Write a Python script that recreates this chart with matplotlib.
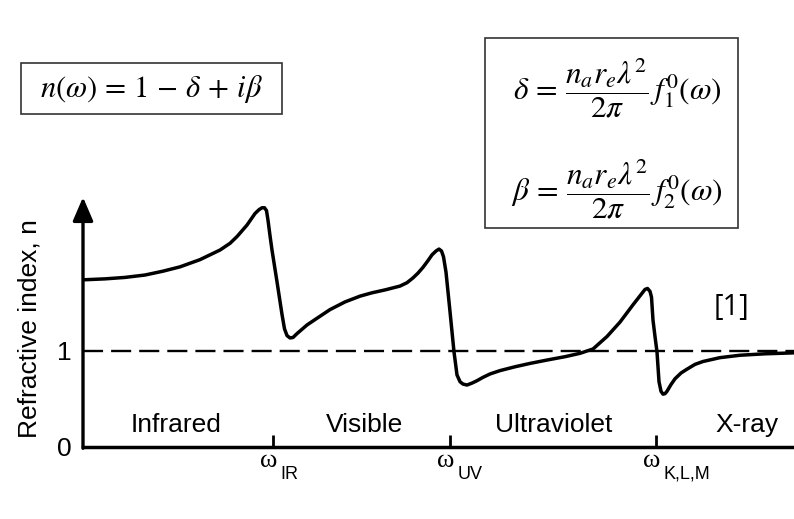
import matplotlib
matplotlib.use('Agg')
import matplotlib.pyplot as plt
from matplotlib.patches import Rectangle

# Schematic refractive index n(omega) across the spectrum
omega = [0.00, 0.22, 0.42, 0.62, 0.80, 0.97, 1.17, 1.37, 1.47, 1.54, 1.64, 1.72,
         1.76, 1.79, 1.815, 1.835, 1.85, 1.87, 1.89, 1.94, 1.99, 2.015, 2.04, 2.07,
         2.10, 2.14, 2.24, 2.34, 2.47, 2.62, 2.77, 2.89, 3.02, 3.17, 3.24, 3.30,
         3.35, 3.40, 3.45, 3.49, 3.53, 3.56, 3.585, 3.605, 3.63, 3.67, 3.71, 3.74,
         3.77, 3.80, 3.84, 3.89, 3.94, 4.00, 4.07, 4.17, 4.32, 4.47, 4.64, 4.82,
         4.97, 5.10, 5.24, 5.37, 5.50, 5.59, 5.62, 5.645, 5.67, 5.685, 5.70, 5.72,
         5.74, 5.76, 5.78, 5.80, 5.82, 5.84, 5.88, 5.92, 5.98, 6.04, 6.12, 6.20,
         6.37, 6.57, 6.82, 7.11]
n_index = [1.74, 1.75, 1.765, 1.79, 1.83, 1.875, 1.95, 2.05, 2.12, 2.19, 2.31, 2.43,
           2.47, 2.49, 2.49, 2.46, 2.36, 2.20, 2.05, 1.72, 1.38, 1.23, 1.16, 1.135,
           1.14, 1.18, 1.27, 1.34, 1.43, 1.51, 1.57, 1.605, 1.635, 1.675, 1.71, 1.76,
           1.81, 1.87, 1.94, 2.00, 2.04, 2.06, 2.04, 1.98, 1.82, 1.41, 0.99, 0.75,
           0.68, 0.655, 0.645, 0.665, 0.69, 0.725, 0.76, 0.795, 0.835, 0.87, 0.905, 0.94,
           0.975, 1.02, 1.15, 1.30, 1.48, 1.60, 1.64, 1.65, 1.62, 1.56, 1.32, 1.15,
           0.99, 0.68, 0.58, 0.55, 0.555, 0.58, 0.65, 0.71, 0.77, 0.81, 0.86, 0.89,
           0.93, 0.955, 0.97, 0.98]

resonances = [1.90, 3.67, 5.73]
resonance_subs = ['IR', 'UV', 'K,L,M']
regions = ['Infrared', 'Visible', 'Ultraviolet', 'X-ray']
region_x = [0.93, 2.82, 4.71, 6.64]
region_y = 0.23

W, H = 794, 519
SANS = 'Liberation Sans'
FS = 19

plt.rcParams['mathtext.fontset'] = 'stix'
fig = plt.figure(figsize=(W / 100, H / 100), dpi=100)
fig.patch.set_facecolor('white')

# axes: origin at (83, 447) px, 100 px per omega unit, 96 px per unit of n
ax = fig.add_axes([83 / W, (H - 447) / H, (W - 83) / W, 245 / H])
ax.set_xlim(0, 7.11)
ax.set_ylim(0, 2.55)
ax.patch.set_alpha(0)

for side in ('top', 'right', 'left'):
    ax.spines[side].set_visible(False)
ax.spines['bottom'].set_linewidth(2.5)

# vertical axis with arrow head
ax.annotate('', xy=(0, 2.60), xytext=(0, -0.013), xycoords='data',
            arrowprops=dict(arrowstyle='-|>,head_length=0.72,head_width=0.31',
                            lw=2.4, color='black', shrinkA=0, shrinkB=0,
                            mutation_scale=20),
            annotation_clip=False)

# n = 1 reference
ax.axhline(1.0, color='black', lw=1.7, dashes=(8.5, 3.4), zorder=2)

ax.plot(omega, n_index, color='black', lw=2.5, solid_joinstyle='round',
        solid_capstyle='round', zorder=3)

ax.set_yticks([0, 1])
ax.set_yticklabels(['0', '1'], fontsize=FS, family=SANS)
ax.tick_params(axis='y', length=0, pad=8)
ax.set_xticks(resonances)
ax.set_xticklabels([])
ax.tick_params(axis='x', direction='in', length=9, width=2.0)

for x, sub in zip(resonances, resonance_subs):
    ax.annotate('\u03c9', xy=(x, 0), xytext=(-3, -10), textcoords='offset points',
                ha='center', va='center', fontsize=19, family='Liberation Serif',
                annotation_clip=False)
    ax.annotate(sub, xy=(x, 0), xytext=(5.5, -19.5), textcoords='offset points',
                ha='left', va='center', fontsize=13, family=SANS,
                annotation_clip=False)

for x, label in zip(region_x, regions):
    ax.text(x, region_y, label, ha='center', va='center', fontsize=FS, family=SANS)

fig.text(30 / W, 1 - 329 / H, 'Refractive index, n', rotation=90, ha='center',
         va='center', fontsize=FS, family=SANS)

fig.text(732 / W, 1 - 308 / H, '[1]', ha='center', va='center', fontsize=21,
         family='Open Sans')

# formula boxes
def box(x0, y0, x1, y1):
    fig.patches.append(Rectangle((x0 / W, 1 - y1 / H), (x1 - x0) / W, (y1 - y0) / H,
                                 transform=fig.transFigure, fill=False,
                                 edgecolor='#333333', lw=1.2))

box(21, 63, 282, 114)
fig.text(152 / W, 1 - 89 / H, r'$n(\omega)\, =\, 1\, -\, \delta\, +\, i\beta$',
         ha='center', va='center', fontsize=22)

box(485, 38, 738, 228)
fig.text(617 / W, 1 - 88 / H,
         r'$\delta\, =\, \dfrac{n_a r_e \lambda^2}{2\pi}\, f_1^0(\omega)$',
         ha='center', va='center', fontsize=22.5)
fig.text(617 / W, 1 - 189 / H,
         r'$\beta\, =\, \dfrac{n_a r_e \lambda^2}{2\pi}\, f_2^0(\omega)$',
         ha='center', va='center', fontsize=22.5)

fig.savefig('out.png', dpi=100, facecolor='white')
